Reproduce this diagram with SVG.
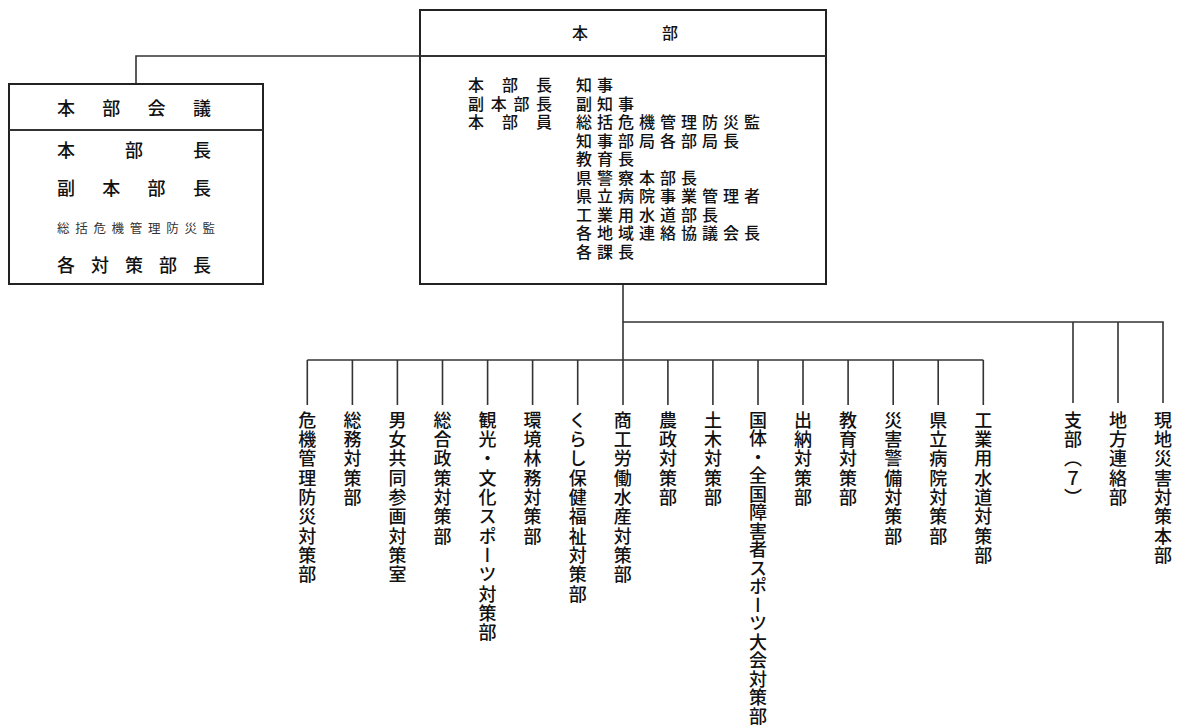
<svg xmlns="http://www.w3.org/2000/svg" width="1182" height="728" viewBox="0 0 1182 728">
<style>
text{font-family:"Noto Sans CJK JP","Noto Sans CJK SC",sans-serif;fill:#111;font-weight:500}
.box{fill:#fff;stroke:#222;stroke-width:2}
.ln{fill:none;stroke:#333;stroke-width:1.6}
.h{font-size:18px}
.s{font-size:12.5px;font-weight:400;fill:#333}
.b{font-size:16px}
.v{font-size:18px;writing-mode:vertical-rl;letter-spacing:1.3px}
</style>
<rect width="1182" height="728" fill="#fff"/>
<g id="connectors">
<path class="ln" d="M136 84V56H420"/>
<path class="ln" d="M623 284V405"/>
<path class="ln" d="M623 322H1163V403M1073 322V403M1118 322V403"/>
<path class="ln" d="M307.3 360H983.3"/>
<path class="ln" d="M307.3 360V405M352.4 360V405M397.4 360V405M442.5 360V405M487.6 360V405M532.6 360V405M577.7 360V405M667.9 360V405M712.9 360V405M758 360V405M803 360V405M848.1 360V405M893.2 360V405M938.2 360V405M983.3 360V405"/>
</g>
<g id="honbu-kaigi">
<rect class="box" x="9" y="84" width="254" height="200"/>
<line class="ln" x1="9" y1="130" x2="263" y2="130" style="stroke-width:2"/>
<text class="h" x="57" y="115" letter-spacing="27.3">本部会議</text>
<text class="h" x="57" y="157" letter-spacing="50">本部長</text>
<text class="h" x="57" y="195" letter-spacing="27.3">副本部長</text>
<text class="s" x="57" y="233" letter-spacing="5.7">総括危機管理防災監</text>
<text class="h" x="57" y="272" letter-spacing="16">各対策部長</text>
</g>
<g id="honbu">
<rect class="box" x="420" y="10" width="406" height="274"/>
<line class="ln" x1="420" y1="56" x2="826" y2="56" style="stroke-width:2"/>
<text class="b" x="572" y="39" letter-spacing="74">本部</text>
<text class="b"><tspan x="468" y="91" letter-spacing="18">本部長</tspan><tspan x="468" y="109.5" letter-spacing="6.7">副本部長</tspan><tspan x="468" y="128" letter-spacing="18">本部員</tspan></text>
<text class="b" letter-spacing="5"><tspan x="576" y="91">知事</tspan><tspan x="576" y="109.5">副知事</tspan><tspan x="576" y="128">総括危機管理防災監</tspan><tspan x="576" y="146.5">知事部局各部局長</tspan><tspan x="576" y="165">教育長</tspan><tspan x="576" y="183.5">県警察本部長</tspan><tspan x="576" y="202">県立病院事業管理者</tspan><tspan x="576" y="220.5">工業用水道部長</tspan><tspan x="576" y="239">各地域連絡協議会長</tspan><tspan x="576" y="257.5">各課長</tspan></text>
</g>
<g id="n01"><text class="v" x="307.3" y="411">危機管理防災対策部</text></g>
<g id="n02"><text class="v" x="352.4" y="411">総務対策部</text></g>
<g id="n03"><text class="v" x="397.4" y="411">男女共同参画対策室</text></g>
<g id="n04"><text class="v" x="442.5" y="411">総合政策対策部</text></g>
<g id="n05"><text class="v" x="487.6" y="411">観光・文化スポーツ対策部</text></g>
<g id="n06"><text class="v" x="532.6" y="411">環境林務対策部</text></g>
<g id="n07"><text class="v" x="577.7" y="411">くらし保健福祉対策部</text></g>
<g id="n08"><text class="v" x="622.8" y="411">商工労働水産対策部</text></g>
<g id="n09"><text class="v" x="667.9" y="411">農政対策部</text></g>
<g id="n10"><text class="v" x="712.9" y="411">土木対策部</text></g>
<g id="n11"><text class="v" x="758" y="411" style="letter-spacing:0.5px">国体・全国障害者スポーツ大会対策部</text></g>
<g id="n12"><text class="v" x="803" y="411">出納対策部</text></g>
<g id="n13"><text class="v" x="848.1" y="411">教育対策部</text></g>
<g id="n14"><text class="v" x="893.2" y="411">災害警備対策部</text></g>
<g id="n15"><text class="v" x="938.2" y="411">県立病院対策部</text></g>
<g id="n16"><text class="v" x="983.3" y="411">工業用水道対策部</text></g>
<g id="n17"><text class="v" x="1073" y="411">支部（７）</text></g>
<g id="n18"><text class="v" x="1118" y="411">地方連絡部</text></g>
<g id="n19"><text class="v" x="1163" y="411">現地災害対策本部</text></g>
</svg>
